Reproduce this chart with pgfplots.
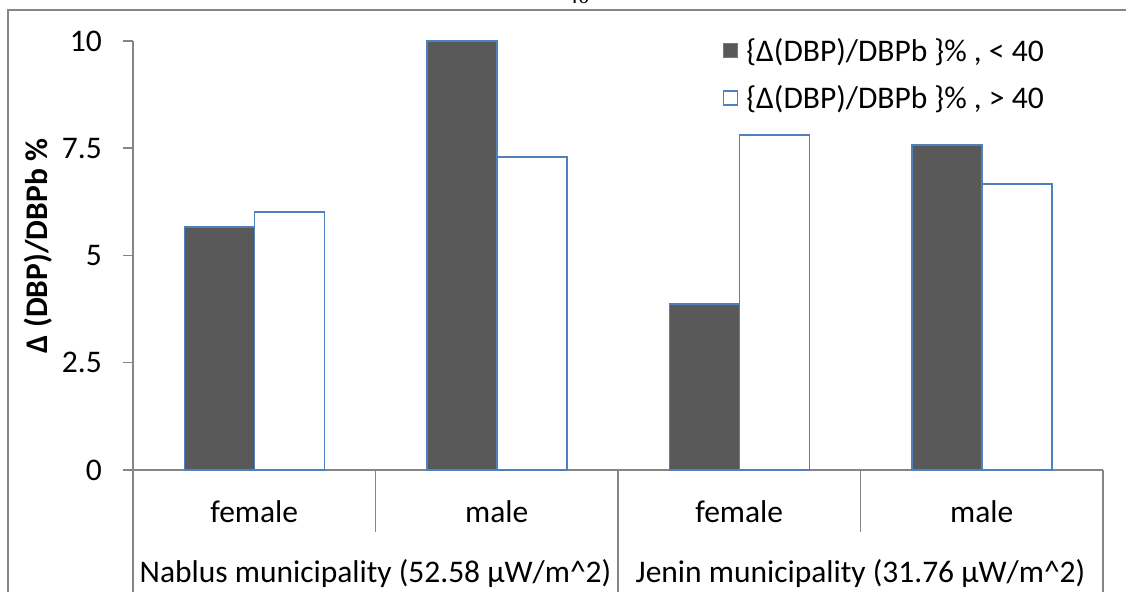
\documentclass[border=0pt]{standalone}
\usepackage{pgfplots}
\pgfplotsset{compat=1.18}
\usepackage{fontspec}
\setmainfont{Carlito}
\newfontfamily\timesfont{Liberation Serif}
\definecolor{darkbar}{HTML}{595959}
\definecolor{edgeblue}{HTML}{4F81BD}
\definecolor{axgray}{HTML}{868686}
\newcommand\myfs{\fontsize{31.5bp}{38bp}\selectfont}
\begin{document}
\begin{tikzpicture}[x=1bp,y=1bp]
\useasboundingbox (0,0) rectangle (1126,592);
\draw[overlay, axgray, line width=2bp] (8,-20) -- (8,582) -- (1150,582);
\node[overlay, font=\timesfont\fontsize{23bp}{27bp}\selectfont, anchor=base, inner sep=0pt] at (578,588) {40};
\begin{axis}[
  at={(133bp,122bp)}, anchor=south west,
  scale only axis, width=970bp, height=429bp,
  xmin=-0.5, xmax=3.5, ymin=0, ymax=10,
  axis x line*=bottom, axis y line*=left,
  axis line style={axgray, line width=1.5bp},
  xtick=\empty,
  ytick={0,2.5,5,7.5,10},
  tick align=outside, major tick length=10bp,
  y tick style={axgray, line width=1.5bp},
  yticklabel style={font=\myfs, inner sep=0pt, xshift=-21bp},
  /pgf/number format/assume math mode=true,
  ybar, bar width=70bp,
  clip=false,
  legend image code/.code={\draw[#1, line width=1.5bp] (0bp,-7bp) rectangle (14bp,7bp);},
  legend style={at={(axis description cs:0.9412,1.0117)}, anchor=north east, draw=none, fill=none, inner sep=0pt, font=\myfs, row sep=19bp, /tikz/every odd column/.append style={column sep=6bp}},
  legend cell align=left,
]
\addplot[fill=darkbar, draw=edgeblue, line width=1.5bp, bar shift=-35bp] coordinates {(0,5.66) (1,10) (2,3.87) (3,7.57)};
\addlegendentry{\{Δ(DBP)/DBPb \}\% , < 40}
\addplot[fill=white, draw=edgeblue, line width=1.5bp, bar shift=35bp] coordinates {(0,6.01) (1,7.30) (2,7.81) (3,6.67)};
\addlegendentry{\{Δ(DBP)/DBPb \}\% , > 40}
\draw[overlay, axgray, line width=1.5bp] (axis cs:-0.5,0) -- ([yshift=-160bp]axis cs:-0.5,0);
\draw[overlay, axgray, line width=1.5bp] (axis cs:1.5,0) -- ([yshift=-160bp]axis cs:1.5,0);
\draw[overlay, axgray, line width=1.5bp] (axis cs:3.5,0) -- ([yshift=-160bp]axis cs:3.5,0);
\draw[axgray, line width=1.5bp] (axis cs:0.5,0) -- ([yshift=-62bp]axis cs:0.5,0);
\draw[axgray, line width=1.5bp] (axis cs:2.5,0) -- ([yshift=-62bp]axis cs:2.5,0);
\node[font=\myfs, anchor=base] at ([yshift=-53bp]axis cs:0,0) {female};
\node[font=\myfs, anchor=base] at ([yshift=-53bp]axis cs:1,0) {male};
\node[font=\myfs, anchor=base] at ([yshift=-53bp]axis cs:2,0) {female};
\node[font=\myfs, anchor=base] at ([yshift=-53bp]axis cs:3,0) {male};
\node[overlay, font=\myfs, anchor=base] at ([yshift=-113bp]axis cs:0.5,0) {Nablus municipality (52.58 µW/m\textasciicircum 2)};
\node[overlay, font=\myfs, anchor=base] at ([yshift=-113bp]axis cs:2.5,0) {Jenin municipality (31.76 µW/m\textasciicircum 2)};
\end{axis}
\node[rotate=90, font=\myfs\bfseries] at (38,346) {Δ (DBP)/DBPb \%};
\end{tikzpicture}
\end{document}
